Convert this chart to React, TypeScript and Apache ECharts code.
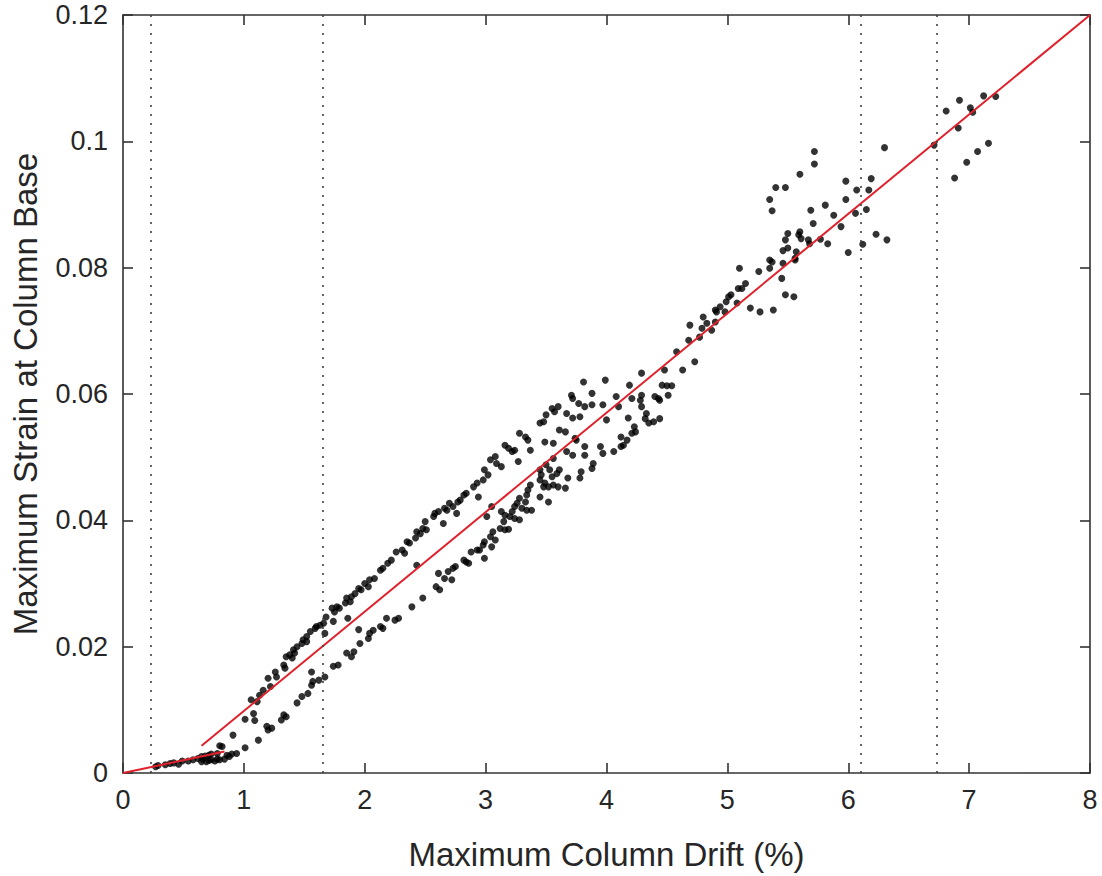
import React, { useEffect, useRef } from "react";
import * as echarts from "echarts";

// ---- Data ----
const xTicks = [0, 1, 2, 3, 4, 5, 6, 7, 8];
const yTicks = [0, 0.02, 0.04, 0.06, 0.08, 0.1, 0.12];
const dottedX = [0.23, 1.65, 6.1, 6.73];

// Red fitted lines
const fitLow = [[0, 0], [0.84, 0.0034]];
const fitHigh = [[0.65, 0.0043], [8, 0.12]];

const lowCluster = [
  [0.27, 0.001], [0.29, 0.0012], [0.35, 0.0013], [0.39, 0.0015], [0.42, 0.0016], [0.46, 0.0014],
  [0.49, 0.0019], [0.54, 0.0019], [0.58, 0.0021], [0.62, 0.0023], [0.65, 0.0026], [0.68, 0.0027],
  [0.71, 0.0028], [0.73, 0.003], [0.78, 0.0031], [0.8, 0.0043], [0.82, 0.0042], [0.65, 0.0018],
  [0.69, 0.0018], [0.73, 0.0021], [0.78, 0.0022], [0.8, 0.0021], [0.86, 0.0028], [0.9, 0.003],
  [0.94, 0.0031], [1.01, 0.004], [1.12, 0.0052], [0.91, 0.006], [0.66, 0.0022], [0.71, 0.002],
  [0.76, 0.0019], [0.84, 0.0022], [0.88, 0.0026],
];

const upperBand = [
  [1.01, 0.0085], [1.08, 0.0094], [1.09, 0.0083], [1.11, 0.0113], [1.06, 0.0116], [1.13, 0.0123],
  [1.16, 0.0131], [1.22, 0.0137], [1.2, 0.015], [1.26, 0.016], [1.27, 0.0152], [1.33, 0.0171],
  [1.34, 0.0166], [1.38, 0.0187], [1.4, 0.0182], [1.42, 0.019], [1.48, 0.0205], [1.49, 0.0211],
  [1.52, 0.0208], [1.55, 0.0224], [1.6, 0.0232], [1.35, 0.0184], [1.41, 0.0195], [1.44, 0.02],
  [1.52, 0.0216], [1.59, 0.0229], [1.63, 0.0234], [1.66, 0.0237], [1.67, 0.0221], [1.68, 0.0247],
  [1.73, 0.0261], [1.75, 0.0255], [1.77, 0.0263], [1.79, 0.0261], [1.84, 0.0269], [1.85, 0.0277],
  [1.88, 0.0271], [1.89, 0.0279], [1.92, 0.0284], [1.95, 0.0292], [1.97, 0.029], [2.0, 0.03],
  [2.03, 0.0295], [2.04, 0.0306], [2.08, 0.0308], [2.13, 0.0321], [2.15, 0.0324], [2.19, 0.0332],
  [2.22, 0.0337], [2.26, 0.035], [2.31, 0.0353], [2.33, 0.0348], [2.35, 0.0366], [2.37, 0.0364],
  [2.42, 0.0372], [2.43, 0.0382], [2.46, 0.0379], [2.48, 0.0387], [2.5, 0.0398], [2.51, 0.0385],
  [2.57, 0.0406], [2.58, 0.0411], [2.61, 0.0414], [2.65, 0.0395], [2.68, 0.0416], [2.7, 0.0427],
  [2.73, 0.0422], [2.79, 0.0432], [2.82, 0.044], [2.84, 0.0443], [2.9, 0.0453], [2.93, 0.0459],
  [1.86, 0.0245], [1.74, 0.024], [2.66, 0.0419], [2.76, 0.0411], [2.77, 0.0429], [2.94, 0.0437],
  [2.98, 0.0464], [2.99, 0.048], [3.02, 0.0472], [3.04, 0.0496], [3.08, 0.0501], [3.09, 0.049],
  [3.13, 0.0485], [3.16, 0.0519], [3.19, 0.0514], [3.22, 0.0509], [3.24, 0.0511], [3.27, 0.0493],
  [3.28, 0.0538], [3.33, 0.0532], [3.35, 0.0527], [3.37, 0.0511], [3.45, 0.0554], [3.48, 0.0556],
  [3.5, 0.0567], [3.55, 0.0577], [3.57, 0.0572], [3.6, 0.058], [3.61, 0.0543], [3.66, 0.054],
  [3.67, 0.0569], [3.71, 0.0598], [3.72, 0.0593], [3.72, 0.0562], [3.77, 0.0585], [3.78, 0.0564],
  [3.81, 0.0619], [3.82, 0.058], [3.88, 0.0601], [3.88, 0.0583], [3.97, 0.0583], [3.99, 0.0622],
  [4.0, 0.0559], [4.08, 0.0596], [4.1, 0.058], [4.18, 0.0562], [4.19, 0.0614], [4.21, 0.0593],
  [3.05, 0.0422], [3.01, 0.0406], [3.49, 0.0524], [3.56, 0.0522],
];

const lowerBand = [
  [1.19, 0.0074], [1.2, 0.0068], [1.23, 0.0071], [1.31, 0.0084], [1.33, 0.0092], [1.35, 0.0089],
  [1.44, 0.0111], [1.48, 0.0121], [1.53, 0.0126], [1.56, 0.0139], [1.57, 0.0145], [1.56, 0.016],
  [1.62, 0.0147], [1.67, 0.0152], [1.74, 0.0169], [1.78, 0.0171], [1.85, 0.019], [1.91, 0.0192],
  [1.89, 0.0184], [1.96, 0.0205], [1.95, 0.0227], [2.03, 0.0213], [2.04, 0.0221], [2.07, 0.0226],
  [2.13, 0.0232], [2.15, 0.0229], [2.18, 0.0245], [2.25, 0.0242], [2.28, 0.0245], [2.39, 0.0263],
  [2.48, 0.0277], [2.59, 0.0295], [2.62, 0.029], [2.61, 0.0316], [2.66, 0.0308], [2.69, 0.0319],
  [2.72, 0.0306], [2.73, 0.0324], [2.82, 0.0337], [2.84, 0.0334], [2.88, 0.035], [2.93, 0.0353],
  [2.43, 0.0329], [3.74, 0.053], [3.75, 0.0527], [3.67, 0.0509], [3.72, 0.0503], [3.82, 0.0517],
  [3.82, 0.0503], [3.89, 0.049], [3.88, 0.0482], [3.95, 0.0517], [3.97, 0.0506], [4.06, 0.0509],
  [4.12, 0.0532], [4.12, 0.0517], [4.17, 0.0527], [4.21, 0.0538], [4.23, 0.0548], [3.56, 0.0498],
  [3.45, 0.048], [3.46, 0.0472], [3.5, 0.0488], [3.53, 0.048], [3.55, 0.0469], [3.59, 0.0474],
  [3.61, 0.048], [3.68, 0.0467], [3.78, 0.0467], [3.79, 0.0477], [3.45, 0.0464], [3.48, 0.0453],
  [3.49, 0.0459], [3.52, 0.0453], [3.56, 0.0456], [3.6, 0.0453], [3.66, 0.0451], [3.45, 0.0437],
  [3.52, 0.0429], [3.37, 0.0456], [3.35, 0.0448], [3.34, 0.044], [3.33, 0.0429], [3.28, 0.0435],
  [3.26, 0.0427], [3.24, 0.0422], [3.22, 0.0414], [3.3, 0.0419], [3.34, 0.0416], [3.38, 0.0416],
  [3.28, 0.0401], [3.24, 0.0403], [3.2, 0.0406], [3.16, 0.0408], [3.15, 0.0398], [3.12, 0.0387],
  [3.16, 0.0385], [3.19, 0.0386], [3.13, 0.0414], [3.06, 0.0382], [3.04, 0.0374], [3.08, 0.0369],
  [2.99, 0.0366], [2.98, 0.0361], [2.95, 0.0353], [2.99, 0.034], [2.86, 0.0332], [2.75, 0.0327],
  [3.05, 0.0358], [4.14, 0.0519], [4.24, 0.054],
];

const highBand = [
  [4.29, 0.0633], [4.28, 0.059], [4.29, 0.0598], [4.29, 0.058], [4.33, 0.0569], [4.32, 0.0561],
  [4.35, 0.0554], [4.39, 0.0556], [4.4, 0.0596], [4.43, 0.0593], [4.44, 0.059], [4.44, 0.0561],
  [4.46, 0.0614], [4.5, 0.0613], [4.54, 0.0613], [4.51, 0.0598], [4.48, 0.0638], [4.58, 0.0667],
  [4.63, 0.0638], [4.68, 0.0685], [4.69, 0.0709], [4.73, 0.0651], [4.77, 0.069], [4.79, 0.0704],
  [4.8, 0.0722], [4.83, 0.0712], [4.87, 0.0701], [4.9, 0.0714], [4.9, 0.0733], [4.91, 0.073],
  [4.94, 0.0738], [4.98, 0.073], [4.99, 0.0746], [5.01, 0.0754], [5.03, 0.0757], [5.08, 0.0744],
  [5.09, 0.0767], [5.12, 0.0767], [5.15, 0.0775], [5.19, 0.0736], [5.1, 0.0799], [5.26, 0.0794],
  [5.27, 0.073], [5.35, 0.0799], [5.37, 0.0809], [5.38, 0.0733], [5.45, 0.0783], [5.46, 0.0807],
  [5.48, 0.0757], [5.55, 0.0754], [5.56, 0.0812], [5.35, 0.0812], [5.46, 0.0827], [5.5, 0.0831],
  [5.56, 0.0815], [5.57, 0.0825], [5.48, 0.0844], [5.5, 0.0854], [5.59, 0.0852], [5.6, 0.0857],
  [5.61, 0.0846], [5.67, 0.0844], [5.68, 0.0838], [5.71, 0.087], [5.77, 0.0845], [5.83, 0.0838],
  [5.88, 0.0883], [5.94, 0.0865], [6.0, 0.0824], [6.06, 0.0886], [6.12, 0.0837], [6.15, 0.0892],
  [6.23, 0.0853], [6.32, 0.0844], [5.98, 0.0908], [6.07, 0.0923], [6.17, 0.0923], [6.19, 0.0941],
  [5.98, 0.0937], [5.69, 0.0891], [5.81, 0.0899], [5.35, 0.0908], [5.37, 0.089], [5.4, 0.0927],
  [5.48, 0.0927], [5.6, 0.0948], [5.72, 0.0984], [5.72, 0.0964], [6.3, 0.099], [6.71, 0.0994],
  [6.81, 0.1048], [6.92, 0.1065], [7.01, 0.1053], [7.03, 0.1046], [6.91, 0.1021], [7.12, 0.1072],
  [7.22, 0.1071], [7.16, 0.0997], [7.07, 0.0984], [6.98, 0.0967], [6.88, 0.0942],
];

const TEXT = "#262626";
const FONT = "'Liberation Sans', Arial, Helvetica, sans-serif";
const axisLineStyle = { color: "#333333", width: 1.6 };

export default function App() {
  const ref = useRef<HTMLDivElement>(null);

  useEffect(() => {
    if (!ref.current) return;
    const chart = echarts.init(ref.current, null, { renderer: "svg" });
    const xMin = xTicks[0];
    const xMax = xTicks[xTicks.length - 1];
    const xInt = xTicks[1] - xTicks[0];
    const yMin = yTicks[0];
    const yMax = yTicks[yTicks.length - 1];
    const yInt = yTicks[1] - yTicks[0];

    const baseX = {
      type: "value",
      min: xMin,
      max: xMax,
      interval: xInt,
      splitLine: { show: false },
      axisLine: { show: true, onZero: false, lineStyle: axisLineStyle },
      axisTick: { show: true, inside: true, length: 10, lineStyle: axisLineStyle },
    };
    const baseY = {
      type: "value",
      min: yMin,
      max: yMax,
      interval: yInt,
      splitLine: { show: false },
      axisLine: { show: true, onZero: false, lineStyle: axisLineStyle },
      axisTick: { show: true, inside: true, length: 10, lineStyle: axisLineStyle },
    };

    const scatterStyle = {
      type: "scatter",
      symbol: "circle",
      symbolSize: 7,
      itemStyle: { color: "#000000" },
      silent: true,
    };

    chart.setOption({
      animation: false,
      backgroundColor: "#ffffff",
      grid: { left: 123, right: 12, top: 15, bottom: 103, containLabel: false },
      xAxis: [
        {
          ...baseX,
          position: "bottom",
          axisLabel: { show: true, fontSize: 27, color: TEXT, fontFamily: FONT, margin: 13 },
          name: "Maximum Column Drift (%)",
          nameLocation: "middle",
          nameGap: 65,
          nameTextStyle: { fontSize: 33, color: TEXT, fontFamily: FONT },
        },
        { ...baseX, position: "top", axisLabel: { show: false } },
      ],
      yAxis: [
        {
          ...baseY,
          position: "left",
          axisLabel: { show: true, fontSize: 27, color: TEXT, fontFamily: FONT, margin: 15 },
          name: "Maximum Strain at Column Base",
          nameLocation: "middle",
          nameGap: 81,
          nameTextStyle: { fontSize: 33, color: TEXT, fontFamily: FONT },
        },
        { ...baseY, position: "right", axisLabel: { show: false } },
      ],
      series: [
        {
          type: "line",
          data: [],
          xAxisIndex: 0,
          yAxisIndex: 0,
          silent: true,
          markLine: {
            silent: true,
            symbol: "none",
            label: { show: false },
            lineStyle: { type: [2, 7], color: "#404040", width: 1.6 },
            data: dottedX.map((v) => ({ xAxis: v })),
          },
        },
        { ...scatterStyle, name: "low", data: lowCluster },
        { ...scatterStyle, name: "upper", data: upperBand },
        { ...scatterStyle, name: "lower", data: lowerBand },
        { ...scatterStyle, name: "high", data: highBand },
        {
          type: "line",
          data: fitLow,
          symbol: "none",
          silent: true,
          lineStyle: { color: "#e0202a", width: 2 },
        },
        {
          type: "line",
          data: fitHigh,
          symbol: "none",
          silent: true,
          lineStyle: { color: "#e0202a", width: 2 },
        },
      ],
    });
    return () => chart.dispose();
  }, []);

  return (
    <div
      ref={ref}
      style={{ position: "fixed", left: 0, top: 0, width: 1102, height: 876, background: "#fff" }}
    />
  );
}
